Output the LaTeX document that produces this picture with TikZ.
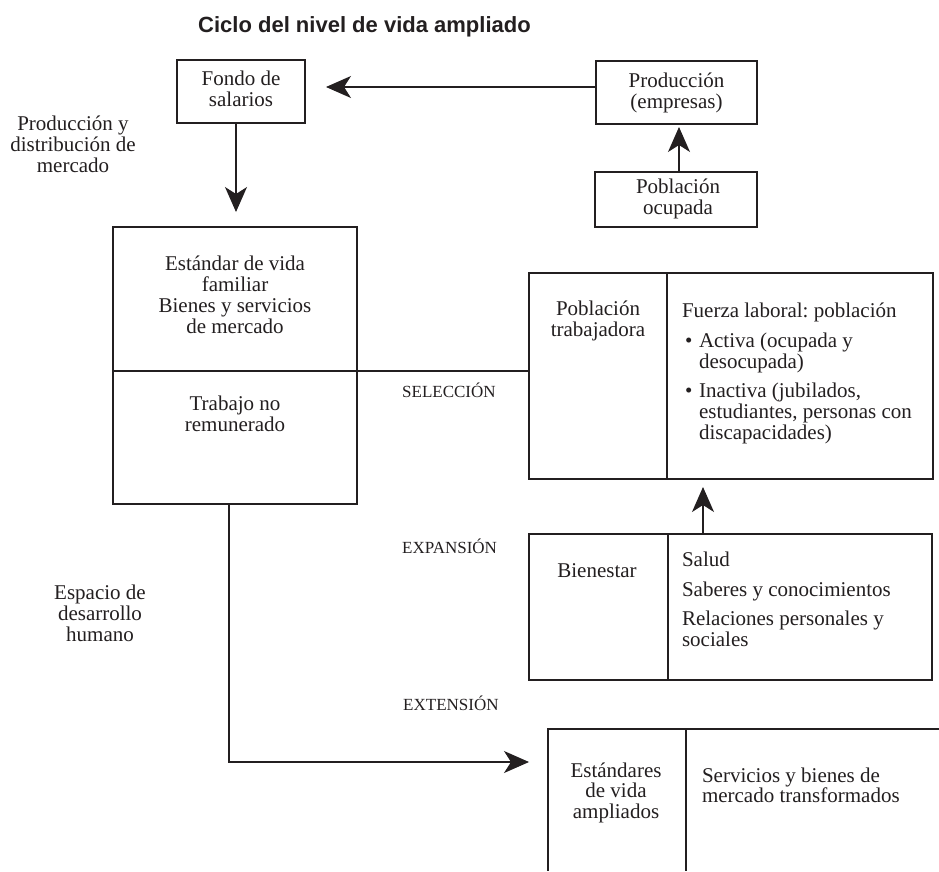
\documentclass[tikz,border=0pt]{standalone}
\usepackage{fontspec}
\setmainfont{Liberation Serif}
\newfontfamily\titlefont{Liberation Sans}
\usepackage{graphicx}
\usetikzlibrary{arrows.meta}
\definecolor{ink}{RGB}{35,31,32}
\newcommand{\myC}[1]{\begin{tabular}[t]{@{}c@{}}#1\end{tabular}}
\newcommand{\myL}[1]{\begin{tabular}[t]{@{}l@{}}#1\end{tabular}}
\frenchspacing
\tikzset{
  box/.style={draw=ink, line width=1.1pt, inner sep=0pt, outer sep=0pt},
  txt/.style={inner sep=0pt, outer sep=0pt, anchor=base, text=ink, font=\frenchspacing\fontsize{21}{21}\selectfont},
  ltxt/.style={txt, anchor=base west},
  lbl/.style={inner sep=0pt, anchor=base west, text=ink, font=\fontsize{17}{20}\selectfont},
  arr/.style={line width=1.1pt, draw=ink, -{Stealth[length=25pt,width=22pt,inset=7pt]}},
  conn/.style={line width=1.1pt, draw=ink}
}
\begin{document}
\begin{tikzpicture}[x=1pt,y=-1pt]
\fill[white] (0,0) rectangle (939,871);
\useasboundingbox (0,0) rectangle (939,871);

% title
\node[inner sep=0pt, anchor=base west, text=ink, font=\titlefont\bfseries\fontsize{22}{24}\selectfont] (title) at (198,32) {Ciclo del nivel de vida ampliado};

% boxes
\node[box, minimum width=128pt, minimum height=63pt] (fondo) at (241,91.5) {};
\node[box, minimum width=161pt, minimum height=63pt] (prod) at (676.5,92.5) {};
\node[box, minimum width=162pt, minimum height=55pt] (ocup) at (676,199.5) {};
\node[box, minimum width=244pt, minimum height=277pt] (big) at (235,365.5) {};
\node[box, minimum width=404pt, minimum height=206pt] (pobtrab) at (731,376) {};
\node[box, minimum width=403pt, minimum height=146pt] (bien) at (730.5,607) {};
\coordinate (extL) at (548,762);
\coordinate (extTL) at (548,729);

% dividers
\draw[conn] (pobtrab.north -| 667,0) -- (pobtrab.south -| 667,0);
\draw[conn] (bien.north -| 668,0) -- (bien.south -| 668,0);
\draw[conn] (939,729) -- (extTL) -- (548,871);
\draw[conn] (686,729) -- (686,871);

% texts
\node[txt] (tFondo) at (241,85) {\myC{Fondo de\\salarios}};
\node[txt] (tProd) at (676.5,87) {\myC{Producción\\(empresas)}};
\node[txt] (tOcup) at (678,193) {\myC{Población\\ocupada}};
\node[txt] (tPyD) at (73,130) {\myC{Producción y\\distribución de\\mercado}};
\node[txt] (tEst) at (235,270) {\myC{Estándar de vida\\familiar\\Bienes y servicios\\de mercado}};
\node[txt] (tTrab) at (235,410) {\myC{Trabajo no\\remunerado}};
\node[lbl] (lSel) at (402,397) {SELECCIÓN};
\node[lbl] (lExp) at (402,553) {EXPANSIÓN};
\node[lbl] (lExt) at (403,710) {EXTENSIÓN};
\node[txt, font=\fontsize{21}{21.7}\selectfont] (tPob) at (598,315) {\myC{Población\\trabajadora}};
\node[ltxt] (tFL) at (682,317) {Fuerza laboral:\ población};
\node[ltxt] (bA) at (685,347) {•};
\node[ltxt] (tAct) at (699,347) {\myL{Activa (ocupada y\\desocupada)}};
\node[ltxt] (bI) at (685,397) {•};
\node[ltxt] (tInact) at (699,397) {\myL{Inactiva (jubilados,\\estudiantes, personas con\\discapacidades)}};
\node[txt] (tBien) at (597,577) {Bienestar};
\node[ltxt] (tSalud) at (682,566) {Salud};
\node[ltxt] (tSab) at (682,596) {Saberes y conocimientos};
\node[ltxt] (tRel) at (682,625) {\myL{Relaciones personales y\\sociales}};
\node[txt] (tEsp) at (100,599) {\myC{Espacio de\\desarrollo\\humano}};
\node[txt, font=\fontsize{21}{20.3}\selectfont] (tAmp) at (616,777) {\myC{Estándares\\de vida\\ampliados}};
\node[ltxt, font=\fontsize{21}{19.5}\selectfont] (tServ) at (702,782) {\myL{Servicios y bienes de\\mercado transformados}};

% connectors
\draw[arr, shorten >=21pt] (prod.west |- 0,87) -- (fondo.east |- 0,87);
\draw[arr, shorten >=15pt] (fondo.south -| 236,0) -- (big.north -| 236,0);
\draw[arr, shorten >=3pt] (ocup.north -| 679,0) -- (prod.south -| 679,0);
\draw[conn] (big.west |- 0,371) -- (pobtrab.west |- 0,371);
\draw[arr, shorten >=8pt] (bien.north -| 703,0) -- (pobtrab.south -| 703,0);
\draw[arr, shorten >=19pt] (big.south -| 229,0) |- (extL);
\end{tikzpicture}
\end{document}
